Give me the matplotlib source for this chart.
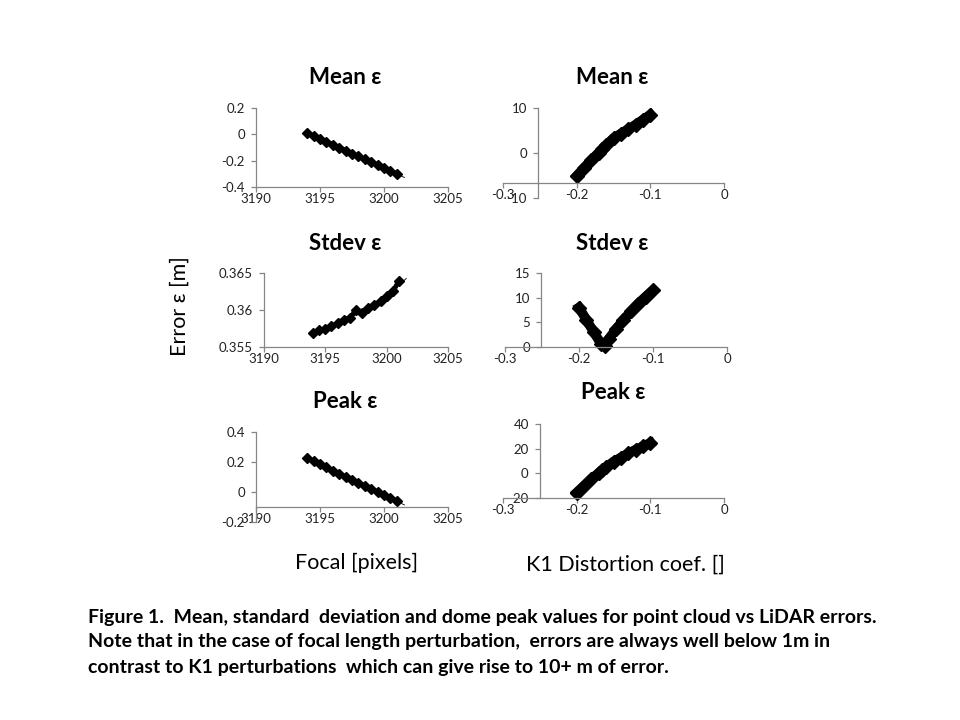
import numpy as np
import matplotlib
matplotlib.use("Agg")
import matplotlib.pyplot as plt

plt.rcParams['font.family'] = ['Lato', 'DejaVu Sans']

# focal length perturbation (pixels)
focal = [3194.0, 3194.5, 3195.0, 3195.5, 3196.0, 3196.5, 3197.0, 3197.5,
         3198.0, 3198.5, 3199.0, 3199.5, 3200.0, 3200.5, 3201.0]
focal_mean = [0.010, -0.012, -0.034, -0.057, -0.079, -0.101, -0.123, -0.146,
              -0.168, -0.190, -0.212, -0.234, -0.257, -0.279, -0.301]
focal_std = [0.3569, 0.3573, 0.3574, 0.3578, 0.3582, 0.3587, 0.3589, 0.3600,
             0.3596, 0.3603, 0.3607, 0.3612, 0.3619, 0.3625, 0.3639]
focal_peak = [0.225, 0.205, 0.184, 0.164, 0.143, 0.123, 0.102, 0.082,
              0.061, 0.041, 0.020, 0.000, -0.021, -0.041, -0.062]

# K1 distortion perturbation
k1 = [-0.20, -0.19, -0.18, -0.17, -0.165, -0.16, -0.15, -0.14, -0.13, -0.12, -0.11, -0.10]
k1_mean = [-5.1, -3.3, -1.6, 0.1, 0.9, 1.7, 3.3, 4.3, 5.3, 6.3, 7.4, 8.5]
k1_std = [8.0, 5.5, 3.0, 0.6, 0.3, 1.6, 3.6, 5.5, 7.2, 8.8, 10.2, 11.5]
k1_peak = [-15.6, -10.1, -4.6, 0.4, 2.7, 5.0, 9.5, 12.8, 16.1, 19.2, 21.9, 24.6]

W, H = 960, 720
fig = plt.figure(figsize=(W / 100, H / 100), dpi=100)
fig.patch.set_facecolor('white')

AX_COL = '#868686'
TXT_COL = '#222222'


def px_axes(x0, x1, ytop, ybot):
    return fig.add_axes([x0 / W, 1 - ybot / H, (x1 - x0) / W, (ybot - ytop) / H])


def style(ax, xlim, ylim, xticks, yticks, xlabels, ylabels, cross_x=None, cross_y=None):
    ax.set_xlim(*xlim)
    ax.set_ylim(*ylim)
    ax.set_xticks(xticks)
    ax.set_yticks(yticks)
    ax.set_xticklabels(xlabels)
    ax.set_yticklabels(ylabels)
    for s in ['top', 'right']:
        ax.spines[s].set_visible(False)
    for s in ['left', 'bottom']:
        ax.spines[s].set_color(AX_COL)
        ax.spines[s].set_linewidth(0.9)
    if cross_x is not None:
        ax.spines['left'].set_position(('data', cross_x))
    if cross_y is not None:
        ax.spines['bottom'].set_position(('data', cross_y))
    ax.tick_params(direction='out', length=3.5, width=0.9, color=AX_COL,
                   labelsize=9.5, labelcolor=TXT_COL)
    ax.tick_params(axis='x', pad=1)
    ax.tick_params(axis='y', pad=4.5)
    ax.patch.set_alpha(0)


def scatter_trend(ax, x, y, deg=1):
    ax.plot(x, y, color='black', lw=3.5)
    ax.plot(x, y, linestyle='none', marker='D', ms=5.5, color='black')
    coef = np.polyfit(x, y, deg)
    xt = np.linspace(x[0], x[-1] + 0.6, 50)
    ax.plot(xt, np.polyval(coef, xt), color='black', lw=0.6)


def thick(ax, x, y):
    ax.plot(x, y, color='black', lw=7, clip_on=False)
    ax.plot(x, y, linestyle='none', marker='D', ms=7, color='black', clip_on=False)


fx = [3190, 3195, 3200, 3205]
fxl = ['3190', '3195', '3200', '3205']
kx = [-0.3, -0.2, -0.1, 0]
kxl = ['-0.3', '-0.2', '-0.1', '0']

# row 1 : mean
ax = px_axes(256, 448, 108, 187)
style(ax, (3190, 3205), (-0.4, 0.2), fx, [-0.4, -0.2, 0, 0.2], fxl,
      ['-0.4', '-0.2', '0', '0.2'])
scatter_trend(ax, focal, focal_mean)

ax = px_axes(503, 724, 108, 198)
style(ax, (-0.3, 0), (-10, 10), kx, [-10, 0, 10], kxl, ['-10', '0', '10'],
      cross_x=-0.2525, cross_y=-6.7)
thick(ax, k1, k1_mean)

# row 2 : stdev
ax = px_axes(264, 448, 273, 347)
style(ax, (3190, 3205), (0.355, 0.365), fx, [0.355, 0.36, 0.365], fxl,
      ['0.355', '0.36', '0.365'])
scatter_trend(ax, focal, focal_std, deg=2)

ax = px_axes(505, 727, 273, 347)
style(ax, (-0.3, 0), (0, 15), kx, [0, 5, 10, 15], kxl, ['0', '5', '10', '15'],
      cross_x=-0.251)
thick(ax, k1, k1_std)

# row 3 : peak
ax = px_axes(256, 448, 432, 522)
style(ax, (3190, 3205), (-0.2, 0.4), fx, [-0.2, 0, 0.2, 0.4], fxl,
      ['-0.2', '0', '0.2', '0.4'], cross_y=-0.1)
scatter_trend(ax, focal, focal_peak)

ax = px_axes(503, 724, 424, 498)
style(ax, (-0.3, 0), (-20, 40), kx, [-20, 0, 20, 40], kxl, ['-20', '0', '20', '40'],
      cross_x=-0.25)
thick(ax, k1, k1_peak)

# panel titles
for x, y, t in [(345, 77, 'Mean ε'), (612, 77, 'Mean ε'),
                (345, 243, 'Stdev ε'), (612, 243, 'Stdev ε'),
                (345, 402, 'Peak ε'), (613, 393, 'Peak ε')]:
    fig.text(x / W, 1 - y / H, t, ha='center', va='center',
             fontsize=16, fontweight='bold', color='black')

fig.text(180 / W, 1 - 306 / H, 'Error ε [m]', rotation=90, ha='center', va='center',
         fontsize=15.5, color='black')
fig.text(357 / W, 1 - 563 / H, 'Focal [pixels]', ha='center', va='center',
         fontsize=15.5, color='black')
fig.text(625 / W, 1 - 565 / H, 'K1 Distortion coef. []', ha='center', va='center',
         fontsize=15.5, color='black')

caption = ["Figure 1.  Mean, standard  deviation and dome peak values for point cloud vs LiDAR errors.",
           "Note that in the case of focal length perturbation,  errors are always well below 1m in",
           "contrast to K1 perturbations  which can give rise to 10+ m of error."]
for i, line in enumerate(caption):
    fig.text(88 / W, 1 - (617 + 25 * i) / H, line, ha='left', va='center',
             fontsize=14, fontweight='bold', color='black')

fig.savefig('out.png', dpi=100)
